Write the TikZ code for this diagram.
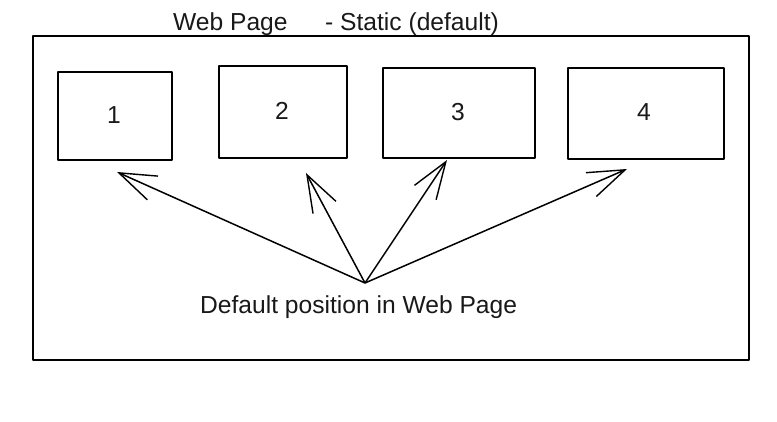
\documentclass[tikz,border=0pt]{standalone}
\usepackage{fontspec}
\setmainfont{Liberation Sans}
\usetikzlibrary{arrows.meta}
\begin{document}
\begin{tikzpicture}[x=1pt,y=-1pt,
  sketch/.style={draw=black, line width=1.6pt, line join=round},
  item/.style={sketch, rectangle, inner sep=0pt},
  lbl/.style={inner sep=0pt, font=\fontsize{24.6}{28}\selectfont, text=black!90},
  ptr/.style={draw=black, line width=1.5pt, -{Straight Barb[length=37pt,width=26pt,line width=1.4pt]}}]
\useasboundingbox (0,0) rectangle (777,422);
\fill[white] (0,0) rectangle (777,422);
% outer frame
\node[item, minimum width=716pt, minimum height=324pt, anchor=north west] (frame) at (32,35) {};
% title
\node[lbl, anchor=base west] (t1) at (173,31) {Web Page};
\node[lbl, anchor=base west] (t2) at (325,31) {- Static (default)};
% boxes
\node[item, minimum width=114pt, minimum height=88pt, anchor=north west] (b1) at (57,71) {};
\node[item, minimum width=128pt, minimum height=92pt, anchor=north west] (b2) at (218,65) {};
\node[item, minimum width=152pt, minimum height=90pt, anchor=north west] (b3) at (382,67) {};
\node[item, minimum width=156pt, minimum height=91pt, anchor=north west] (b4) at (567,67) {};
% numbers
\node[lbl, anchor=base] (n1) at (114,124) {1};
\node[lbl, anchor=base] (n2) at (282,120) {2};
\node[lbl, anchor=base] (n3) at (458,121) {3};
\node[lbl, anchor=base] (n4) at (644,121) {4};
% arrows
\coordinate (o) at (365,283);
\coordinate (p1) at (117,172);
\coordinate (p2) at (306,173);
\coordinate (p3) at (447,160);
\coordinate (p4) at (627,169);
\draw[ptr] (o) -- (p1);
\draw[ptr] (o) -- (p2);
\draw[ptr] (o) -- (p3);
\draw[ptr] (o) -- (p4);
\node[lbl, anchor=base west] (cap) at (200,314) {Default position in Web Page};
\end{tikzpicture}
\end{document}
